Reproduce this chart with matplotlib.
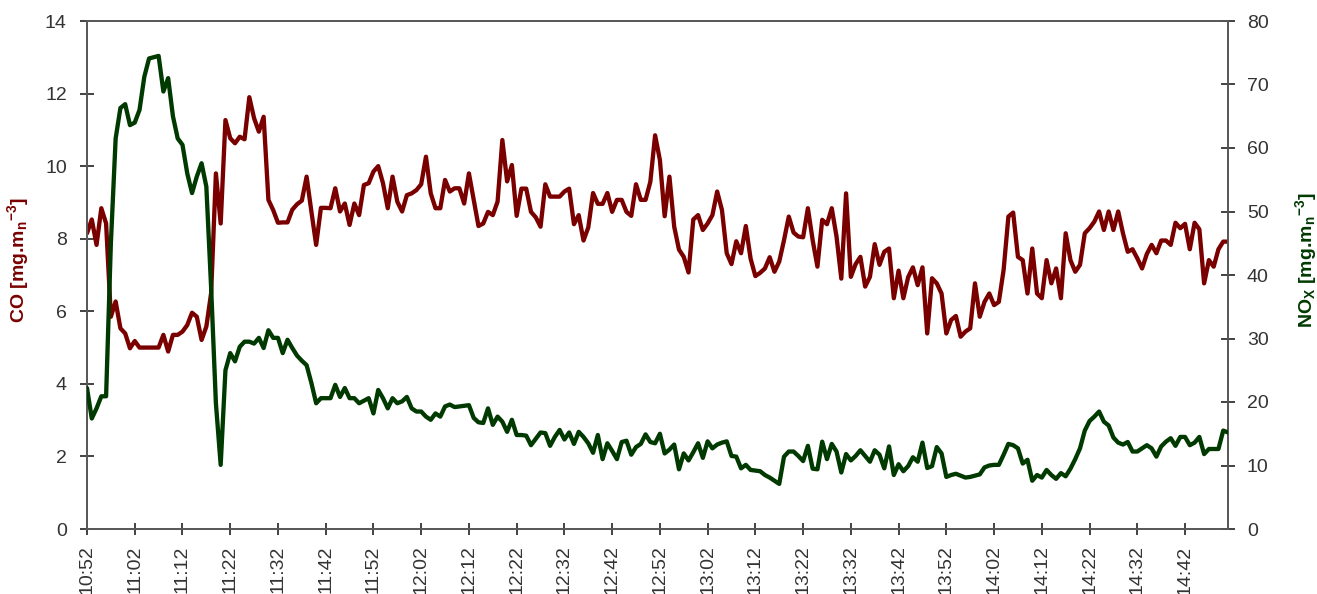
import matplotlib
matplotlib.use("Agg")
import matplotlib.pyplot as plt
import numpy as np

# CO concentration, one reading per minute from 10:52
co = [
    8.15, 8.53, 7.83, 8.84, 8.42, 5.85, 6.27, 5.53, 5.39, 4.98,
    5.18, 5.0, 5.0, 5.0, 5.0, 5.0, 5.35, 4.89, 5.35, 5.35,
    5.44, 5.62, 5.96, 5.85, 5.21, 5.58, 6.5, 9.8, 8.42, 11.27,
    10.77, 10.63, 10.81, 10.74, 11.9, 11.32, 10.95, 11.36, 9.07, 8.79,
    8.44, 8.45, 8.45, 8.8, 8.95, 9.05, 9.71, 8.75, 7.83, 8.85,
    8.85, 8.84, 9.39, 8.75, 8.97, 8.38, 8.97, 8.65, 9.48, 9.53,
    9.85, 10.0, 9.53, 8.84, 9.71, 9.02, 8.75, 9.2, 9.25, 9.34,
    9.5, 10.26, 9.25, 8.84, 8.84, 9.62, 9.3, 9.39, 9.39, 8.97,
    9.8, 9.07, 8.35, 8.42, 8.74, 8.65, 9.02, 10.72, 9.58, 10.03,
    8.63, 9.38, 9.38, 8.74, 8.59, 8.33, 9.5, 9.16, 9.16, 9.16,
    9.3, 9.38, 8.4, 8.65, 7.95, 8.31, 9.26, 8.96, 8.96, 9.26,
    8.74, 9.07, 9.07, 8.74, 8.63, 9.5, 9.07, 9.07, 9.57, 10.85,
    10.17, 8.62, 9.71, 8.33, 7.7, 7.5, 7.07, 8.53, 8.65, 8.24,
    8.42, 8.65, 9.3, 8.79, 7.6, 7.3, 7.93, 7.6, 8.35, 7.45,
    6.97, 7.06, 7.18, 7.49, 7.09, 7.37, 7.96, 8.61, 8.17, 8.06,
    8.04, 8.84, 7.96, 7.23, 8.52, 8.4, 8.84, 8.06, 6.9, 9.25,
    6.95, 7.3, 7.5, 6.68, 6.95, 7.85, 7.28, 7.64, 7.73, 6.36,
    7.12, 6.36, 6.94, 7.21, 6.72, 7.21, 5.39, 6.91, 6.77, 6.49,
    5.39, 5.76, 5.87, 5.3, 5.44, 5.53, 6.77, 5.85, 6.26, 6.49,
    6.17, 6.26, 7.14, 8.61, 8.72, 7.5, 7.41, 6.49, 7.73, 6.49,
    6.36, 7.41, 6.77, 7.18, 6.36, 8.15, 7.41, 7.09, 7.28, 8.15,
    8.29, 8.47, 8.75, 8.24, 8.75, 8.24, 8.75, 8.15, 7.64, 7.71,
    7.46, 7.18, 7.58, 7.83, 7.6, 7.95, 7.95, 7.83, 8.44, 8.29,
    8.41, 7.71, 8.44, 8.26, 6.77, 7.41, 7.23, 7.71, 7.92, 7.92,
]

# NOx concentration, same time base
nox = [
    22.2, 17.4, 19.0, 20.9, 20.9, 45.0, 61.5, 66.3, 66.9, 63.6,
    64.0, 66.0, 71.2, 74.1, 74.3, 74.5, 68.9, 71.0, 65.0, 61.5,
    60.5, 56.0, 52.9, 55.5, 57.6, 53.9, 38.0, 19.8, 10.1, 25.0,
    27.7, 26.4, 28.7, 29.5, 29.5, 29.2, 30.1, 28.5, 31.3, 30.1,
    30.1, 27.7, 29.8, 28.5, 27.3, 26.5, 25.8, 23.0, 19.8, 20.6,
    20.6, 20.6, 22.7, 20.8, 22.2, 20.6, 20.6, 19.8, 20.2, 20.6,
    18.2, 21.9, 20.6, 19.0, 20.6, 19.8, 20.1, 20.8, 19.0, 18.5,
    18.5, 17.7, 17.2, 18.2, 17.7, 19.3, 19.6, 19.2, 19.3, 19.4,
    19.5, 17.5, 16.8, 16.7, 19.0, 16.4, 17.7, 16.9, 15.3, 17.2,
    14.8, 14.8, 14.7, 13.2, 14.2, 15.2, 15.1, 13.1, 14.5, 15.6,
    14.1, 15.2, 13.4, 15.3, 14.5, 13.5, 12.0, 14.8, 11.0, 13.5,
    12.3, 11.0, 13.7, 13.9, 11.7, 12.9, 13.4, 14.9, 13.7, 13.5,
    15.0, 11.9, 12.5, 13.3, 9.4, 11.9, 10.8, 12.1, 13.5, 11.2,
    13.8, 12.7, 13.3, 13.6, 13.8, 11.5, 11.4, 9.55, 10.1, 9.3,
    9.2, 9.1, 8.5, 8.1, 7.6, 7.1, 11.4, 12.2, 12.2, 11.5,
    10.7, 13.1, 9.5, 9.4, 13.75, 11.0, 13.4, 12.2, 8.9, 11.8,
    10.8, 11.5, 12.4, 11.5, 10.6, 12.4, 11.7, 9.55, 13.0, 8.5,
    10.2, 9.1, 9.9, 11.3, 10.6, 13.6, 9.6, 9.9, 12.9, 11.9,
    8.2, 8.5, 8.7, 8.4, 8.1, 8.2, 8.4, 8.6, 9.7, 10.0,
    10.1, 10.1, 11.7, 13.4, 13.2, 12.7, 10.3, 10.9, 7.6, 8.5,
    8.1, 9.3, 8.5, 7.9, 8.8, 8.3, 9.5, 11.0, 12.7, 15.5,
    17.0, 17.7, 18.5, 16.9, 16.3, 14.4, 13.6, 13.3, 13.7, 12.2,
    12.2, 12.7, 13.2, 12.7, 11.4, 13.0, 13.75, 14.3, 13.1, 14.5,
    14.5, 13.2, 13.6, 14.5, 11.8, 12.6, 12.6, 12.6, 15.5, 15.2,
]

time_labels = [
    "10:52", "11:02", "11:12", "11:22", "11:32", "11:42", "11:52", "12:02",
    "12:12", "12:22", "12:32", "12:42", "12:52", "13:02", "13:12", "13:22",
    "13:32", "13:42", "13:52", "14:02", "14:12", "14:22", "14:32", "14:42",
]
label_step = 10  # minutes between labelled ticks

co_ticks = list(range(0, 15, 2))
nox_ticks = list(range(0, 81, 10))

CO_COLOR = "#7a0000"
NOX_COLOR = "#003a00"
AXIS_COLOR = "#595959"
TEXT_COLOR = "#333333"

plt.rcParams["font.family"] = ["Liberation Sans", "DejaVu Sans"]
plt.rcParams["mathtext.fontset"] = "custom"
plt.rcParams["mathtext.rm"] = "Liberation Sans:bold"
plt.rcParams["mathtext.it"] = "Liberation Sans:bold"
plt.rcParams["mathtext.bf"] = "Liberation Sans:bold"
plt.rcParams["mathtext.default"] = "rm"

W, H = 1317, 594
fig = plt.figure(figsize=(W / 100, H / 100), dpi=100)
fig.patch.set_facecolor("white")
ax = fig.add_axes([87 / W, 1 - 529 / H, (1228 - 87) / W, (529 - 21) / H])
ax2 = ax.twinx()

x = np.arange(len(co))
ax.plot(x, co, color=CO_COLOR, lw=3.1, solid_joinstyle="round",
        solid_capstyle="round", zorder=3)
ax2.plot(x, nox, color=NOX_COLOR, lw=3.1, solid_joinstyle="round",
         solid_capstyle="round", zorder=3)

ax.set_xlim(0, len(co) - 1)
ax.set_ylim(co_ticks[0], co_ticks[-1])
ax2.set_ylim(nox_ticks[0], nox_ticks[-1])

ax.set_xticks([i * label_step for i in range(len(time_labels))])
ax.set_xticklabels(time_labels, rotation=90, va="top", ha="center")
ax.set_yticks(co_ticks)
ax2.set_yticks(nox_ticks)

for a in (ax, ax2):
    for s in a.spines.values():
        s.set_color(AXIS_COLOR)
        s.set_linewidth(1.3)

ax.tick_params(axis="x", direction="inout", length=8.6, width=1.2,
               color="#222222", labelsize=14, labelcolor=TEXT_COLOR, pad=7.5)
ax.tick_params(axis="y", direction="inout", length=10, width=1.2,
               color="#222222", labelsize=14, labelcolor=TEXT_COLOR, pad=9.5)
ax2.tick_params(axis="y", direction="inout", length=10, width=1.2,
                color="#222222", labelsize=14, labelcolor=TEXT_COLOR, pad=8.5)

ax.set_ylabel(r"CO [mg.m$_{n}$$^{-3}$]", color=CO_COLOR, fontweight="bold",
              fontsize=14)
ax.yaxis.set_label_coords(-0.0491, 0.5295)
ax2.set_ylabel(r"NO$_{X}$ [mg.m$_{n}$$^{-3}$]", color=NOX_COLOR,
               fontweight="bold", fontsize=14, rotation=90)
ax2.yaxis.set_label_coords(1.057, 0.5295)

fig.savefig("out.png", dpi=100, facecolor="white")
